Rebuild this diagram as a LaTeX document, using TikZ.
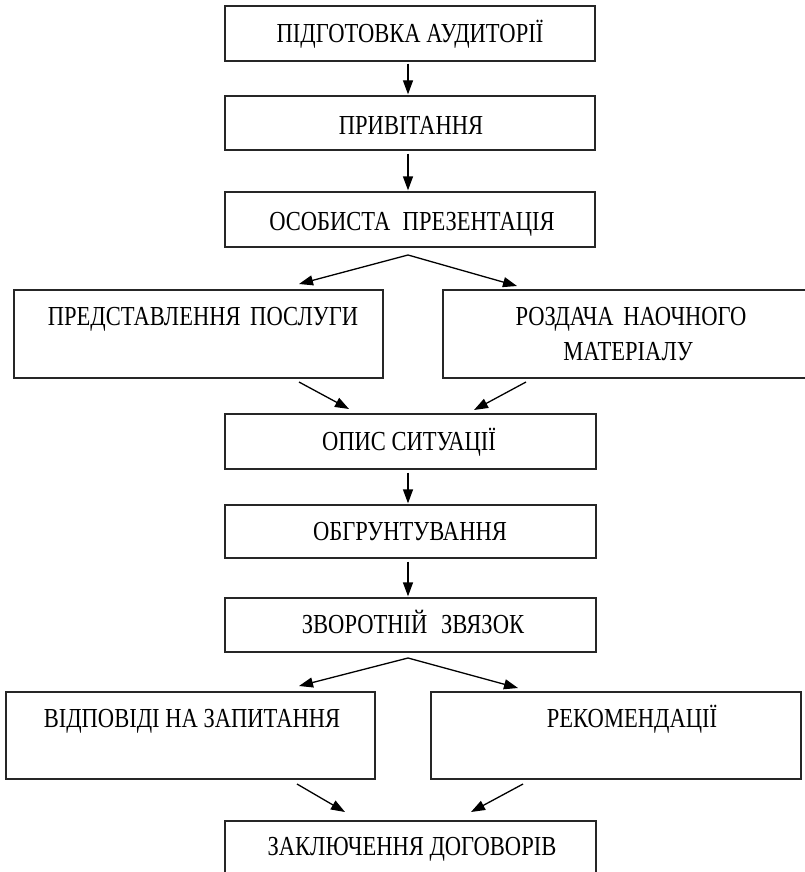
\documentclass[tikz,border=0pt]{standalone}
\usepackage{fontspec}
\setmainfont{Liberation Serif}[FakeStretch=0.82]
\usetikzlibrary{arrows.meta}
\begin{document}
\begin{tikzpicture}[x=1pt,y=-1pt,
  box/.style={draw=black!85,line width=1.3pt,rectangle,inner sep=0pt},
  lbl/.style={anchor=base,inner sep=0pt,font=\fontsize{27.5}{30}\selectfont},
  arr/.style={line width=1.3pt,-{Triangle[length=14pt,width=10pt]}}]
\useasboundingbox (0,0) rectangle (805,872);
% boxes
\node[box,minimum width=370pt,minimum height=55pt] (b1) at (410,33.5) {};
\node[box,minimum width=370pt,minimum height=54pt] (b2) at (410,123) {};
\node[box,minimum width=370pt,minimum height=55pt] (b3) at (410,219.5) {};
\node[box,minimum width=369pt,minimum height=88pt] (b4) at (198.5,334) {};
\node[box,minimum width=380pt,minimum height=88pt] (b5) at (633,334) {};
\node[box,minimum width=371pt,minimum height=55pt] (b6) at (410.5,441.5) {};
\node[box,minimum width=371pt,minimum height=53pt] (b7) at (410.5,531.5) {};
\node[box,minimum width=371pt,minimum height=54pt] (b8) at (410.5,625) {};
\node[box,minimum width=369pt,minimum height=87pt] (b9) at (190.5,735.5) {};
\node[box,minimum width=370pt,minimum height=87pt] (b10) at (616,735.5) {};
\node[box,minimum width=371pt,minimum height=56pt] (b11) at (410.5,849) {};
% texts
\node[lbl] (t1) at (410,43) {ПІДГОТОВКА АУДИТОРІЇ};
\node[lbl] (t2) at (411,135) {ПРИВІТАННЯ};
\node[lbl] (t3) at (412,230) {ОСОБИСТА\hspace{0.45em}ПРЕЗЕНТАЦІЯ};
\node[lbl] (t4) at (203,325) {ПРЕДСТАВЛЕННЯ\hspace{0.35em}ПОСЛУГИ};
\node[lbl] (t5a) at (631,325) {РОЗДАЧА\hspace{0.35em}НАОЧНОГО};
\node[lbl] (t5b) at (628,360) {МАТЕРІАЛУ};
\node[lbl] (t6) at (409,450) {ОПИС СИТУАЦІЇ};
\node[lbl] (t7) at (410,540) {ОБГРУНТУВАННЯ};
\node[lbl] (t8) at (413,633) {ЗВОРОТНІЙ\hspace{0.5em}ЗВЯЗОК};
\node[lbl] (t9) at (192,727) {ВІДПОВІДІ НА ЗАПИТАННЯ};
\node[lbl] (t10) at (632,727) {РЕКОМЕНДАЦІЇ};
\node[lbl] (t11) at (412,855) {ЗАКЛЮЧЕННЯ ДОГОВОРІВ};
% coordinates for branching connectors
\coordinate (s1) at (408,255);
\coordinate (s1l) at (299,284);
\coordinate (s1r) at (517,286);
\coordinate (m1a) at (299,382);
\coordinate (m1b) at (349,409);
\coordinate (m1c) at (526,382);
\coordinate (m1d) at (474,410);
\coordinate (s2) at (408,658);
\coordinate (s2l) at (299,686);
\coordinate (s2r) at (518,688);
\coordinate (m2a) at (297,784);
\coordinate (m2b) at (345,812);
\coordinate (m2c) at (523,784);
\coordinate (m2d) at (471,812);
% connectors
\draw[arr] ([xshift=-2pt,yshift=-2pt]b1.south) -- ([xshift=-2pt,yshift=1pt]b2.north);
\draw[arr] ([xshift=-2pt,yshift=-3pt]b2.south) -- ([xshift=-2pt,yshift=1pt]b3.north);
\draw[arr] (s1) -- (s1l);
\draw[arr] (s1) -- (s1r);
\draw[arr] (m1a) -- (m1b);
\draw[arr] (m1c) -- (m1d);
\draw[arr] ([xshift=-2.5pt,yshift=-3pt]b6.south) -- ([xshift=-2.5pt,yshift=1pt]b7.north);
\draw[arr] ([xshift=-2.5pt,yshift=-3pt]b7.south) -- ([xshift=-2.5pt,yshift=1pt]b8.north);
\draw[arr] (s2) -- (s2l);
\draw[arr] (s2) -- (s2r);
\draw[arr] (m2a) -- (m2b);
\draw[arr] (m2c) -- (m2d);
\end{tikzpicture}
\end{document}
